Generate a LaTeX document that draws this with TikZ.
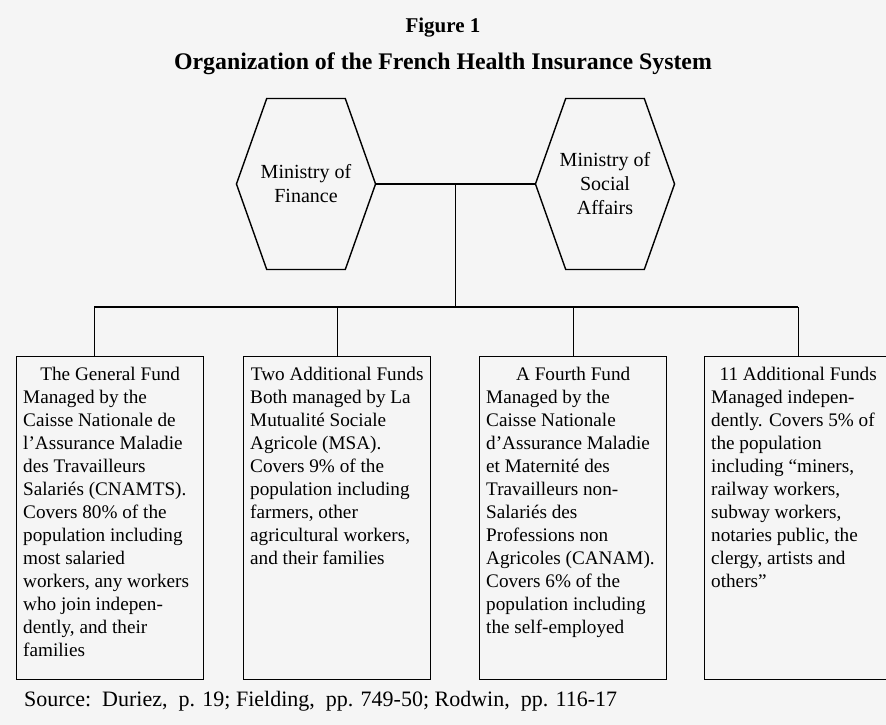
\documentclass[tikz,border=0pt]{standalone}
\usepackage{fontspec}
\setmainfont{Liberation Serif}
\usetikzlibrary{shapes.symbols, calc}

\newcommand\fundtext[2]{\parbox[t][303pt][t]{174pt}{%
  {\centering #1\par}\raggedright #2}}

\begin{document}
\begin{tikzpicture}[
  x=1pt, y=-1pt,
  hexa/.style={draw, shape=signal, signal to=west and east,
               signal pointer angle=141, minimum width=129pt,
               minimum height=171pt, inner xsep=-6pt, inner ysep=0pt,
               align=center, font=\fontsize{20}{24}\selectfont},
  fund/.style={draw, anchor=north west, inner xsep=6.5pt, inner ysep=10pt,
               font=\fontsize{19.2}{23}\selectfont},
  head/.style={font=\fontsize{21}{26}\selectfont\bfseries},
  line width=1.4pt
]
\useasboundingbox[fill=black!4] (0,0) rectangle (886,725);

% --- Titles ---
\node[head] (fig) at (443,28) {Figure 1};
\node[head, font=\fontsize{23.8}{26}\selectfont\bfseries] (sub) at (443,64)
  {Organization of the French Health Insurance System};

% --- Ministries ---
\node[hexa] (fin) at (306,184) {Ministry of\\Finance};
\node[hexa] (soc) at (605,184) {Ministry of\\Social\\Affairs};

% --- Funds ---
\node[fund] (gen) at (16,356) {\fundtext{The General Fund}{Managed by the\\
  Caisse Nationale de\\ l'Assurance Maladie\\ des Travailleurs\\
  Salariés (CNAMTS).\\ Covers 80\% of the\\ population including\\
  most salaried\\ workers, any workers\\ who join indepen-\\
  dently, and their\\ families}};
\node[fund] (two) at (243,356) {\fundtext{Two Additional Funds}{Both managed by La\\
  Mutualité Sociale\\ Agricole (MSA).\\ Covers 9\% of the\\
  population including\\ farmers, other\\ agricultural workers,\\
  and their families}};
\node[fund] (four) at (479,356) {\fundtext{A Fourth Fund}{Managed by the\\
  Caisse Nationale\\ d'Assurance Maladie\\ et Maternité des\\
  Travailleurs non-\\ Salariés des\\ Professions non\\
  Agricoles (CANAM).\\ Covers 6\% of the\\ population including\\
  the self-employed}};
\node[fund] (elev) at (704,356) {\fundtext{11 Additional Funds}{Managed indepen-\\
  dently. Covers 5\% of\\ the population\\ including “miners,\\
  railway workers,\\ subway workers,\\ notaries public, the\\
  clergy, artists and\\ others”}};

% --- Source ---
\node[anchor=west, font=\fontsize{22}{24}\selectfont] (src) at (20,701)
  {Source:\ \ Duriez,\ \ p. 19; Fielding,\ \ pp. 749-50; Rodwin,\ \ pp. 116-17};

% === Connectors ===
\coordinate (mid) at ($(fin.east)!0.5!(soc.west)$);
\coordinate (bar) at (mid |- 0,307);
\draw (fin.east) -- (soc.west);
\draw (mid) -- (bar);
\draw ($(bar -| gen.north)+(-16,0)$) -- (bar -| elev.north);
\draw ($(bar -| gen.north)+(-16,0)$) -- ($(gen.north)+(-16,0)$);
\draw (bar -| two.north) -- (two.north);
\draw (bar -| four.north) -- (four.north);
\draw (bar -| elev.north) -- (elev.north);

\end{tikzpicture}
\end{document}
